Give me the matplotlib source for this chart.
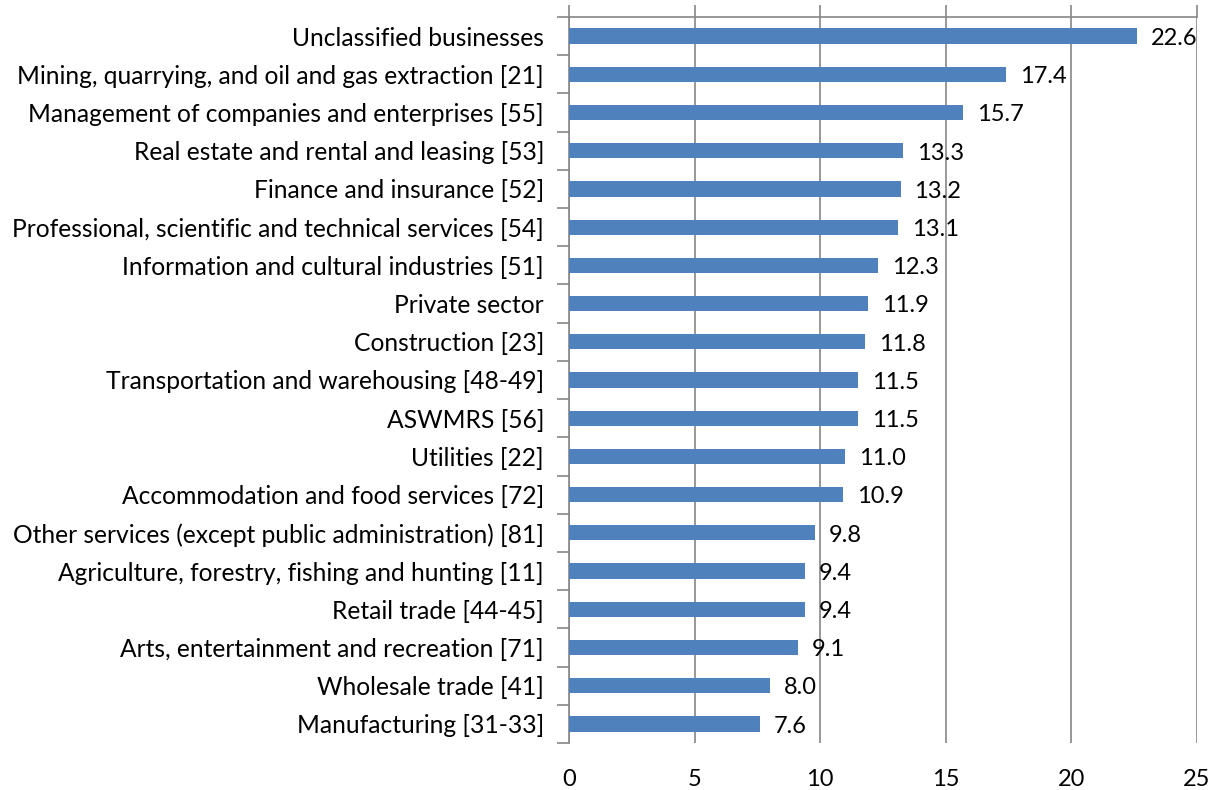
import matplotlib.pyplot as plt
import numpy as np

plt.rcParams['font.family'] = ['Lato', 'DejaVu Sans']

industries = [
    "Unclassified businesses",
    "Mining, quarrying, and oil and gas extraction [21]",
    "Management of companies and enterprises [55]",
    "Real estate and rental and leasing [53]",
    "Finance and insurance [52]",
    "Professional, scientific and technical services [54]",
    "Information and cultural industries [51]",
    "Private sector",
    "Construction [23]",
    "Transportation and warehousing [48-49]",
    "ASWMRS [56]",
    "Utilities [22]",
    "Accommodation and food services [72]",
    "Other services (except public administration) [81]",
    "Agriculture, forestry, fishing and hunting [11]",
    "Retail trade [44-45]",
    "Arts, entertainment and recreation [71]",
    "Wholesale trade [41]",
    "Manufacturing [31-33]",
]
rates = [22.6, 17.4, 15.7, 13.3, 13.2, 13.1, 12.3, 11.9, 11.8, 11.5,
         11.5, 11.0, 10.9, 9.8, 9.4, 9.4, 9.1, 8.0, 7.6]
x_ticks = [0, 5, 10, 15, 20, 25]

bar_color = '#4F81BD'
line_color = '#868686'
fs = 17.7

fig = plt.figure(figsize=(12.2, 7.9), dpi=100)
ax = fig.add_axes([0.4664, 0.0595, 0.5147, 0.919])

n = len(industries)
y = np.arange(n)
ax.barh(y, rates, height=0.4, color=bar_color, zorder=3)
for yi, v in zip(y, rates):
    ax.text(v + 0.55, yi + 0.06, f"{v:.1f}", va='center', ha='left',
            fontsize=17, color='black', zorder=4)

ax.set_ylim(n - 0.5, -0.5)
ax.set_xlim(0, 25)

# category labels on the left, ticks between categories
ax.set_yticks(y)
ax.set_yticklabels(industries, fontsize=fs)
ax.tick_params(axis='y', which='major', length=0, pad=18)
ax.set_yticks(np.arange(n + 1) - 0.5, minor=True)
ax.tick_params(axis='y', which='minor', length=9, width=1.2, color=line_color,
               direction='out')

# value gridlines, labels below, tick marks above
ax.set_xticks(x_ticks)
ax.set_xticklabels([str(t) for t in x_ticks], fontsize=17)
ax.tick_params(axis='x', which='major', bottom=False, top=True, labelbottom=True,
               length=9, width=1.2, color=line_color, direction='out', pad=10)
ax.grid(axis='x', color=line_color, linewidth=1.2, zorder=0)

for side in ['right', 'bottom']:
    ax.spines[side].set_visible(False)
for side in ['left', 'top']:
    ax.spines[side].set_color(line_color)
    ax.spines[side].set_linewidth(1.2)

fig.savefig('out.png', dpi=100)
